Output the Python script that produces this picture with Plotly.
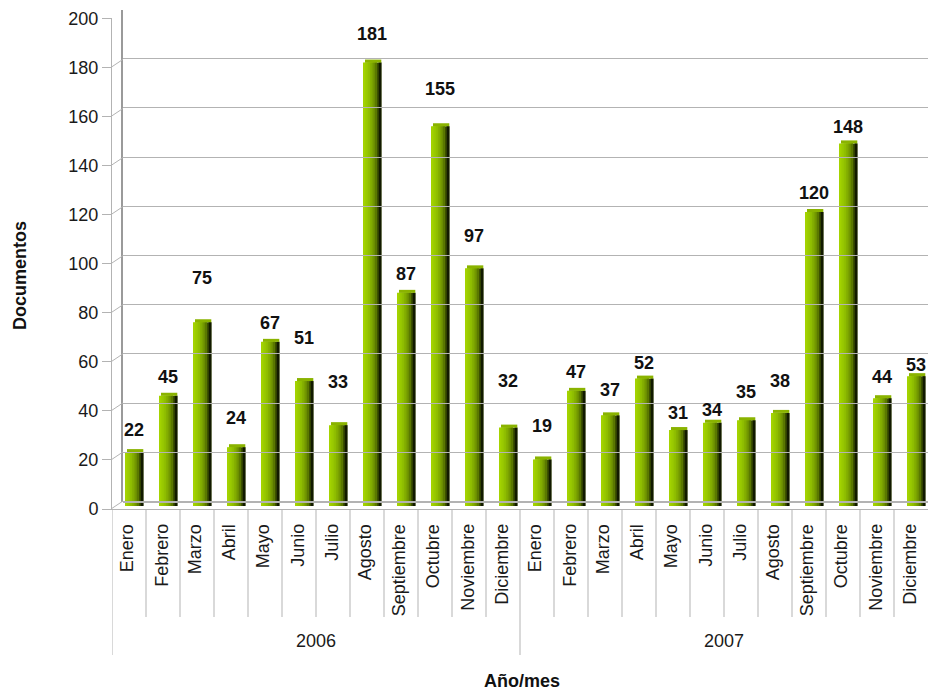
import plotly.graph_objects as go

# ---------------- data ----------------
months = ["Enero", "Febrero", "Marzo", "Abril", "Mayo", "Junio", "Julio",
          "Agosto", "Septiembre", "Octubre", "Noviembre", "Diciembre"]
years = ["2006", "2007"]
docs_2006 = [22, 45, 75, 24, 67, 51, 33, 181, 87, 155, 97, 32]
docs_2007 = [19, 47, 37, 52, 31, 34, 35, 38, 120, 148, 44, 53]
y_ticks = [0, 20, 40, 60, 80, 100, 120, 140, 160, 180, 200]

# label placement nudges (pixels above bar top), style only
label_lift_px = [22, 19, 44, 29, 19, 43, 43, 29, 19, 37, 32, 47,
                 33, 19, 25, 16, 17, 13, 28, 32, 19, 16, 21, 11]

# ---------------- geometry helpers ----------------
W, H = 928, 692


def fx(p):
    return p / W


def fy(p):
    return 1 - p / H


values = docs_2006 + docs_2007
n = len(values)
xs = list(range(n))
month_labels = months * len(years)

X_LEFT = 112
CAT = (W - X_LEFT) / n          # pixels per category
front_l = -4 / CAT
front_w = 14 / CAT
side_w = 4.3 / CAT
bar_center = front_l + (front_w + side_w) / 2


def hex2rgb(h):
    h = h.lstrip('#')
    return tuple(int(h[i:i + 2], 16) for i in (0, 2, 4))


def grad(stops, t):
    seg = (len(stops) - 1) * t
    i = min(int(seg), len(stops) - 2)
    f = seg - i
    a, b = hex2rgb(stops[i]), hex2rgb(stops[i + 1])
    c = [round(a[k] + (b[k] - a[k]) * f) for k in range(3)]
    return 'rgb(%d,%d,%d)' % tuple(c)


front_stops = ["#a4d300", "#94c400", "#7fa800", "#5a7800"]
side_stops = ["#3c5100", "#263400", "#121a00"]

fig = go.Figure()

# empty trace creating the back-wall subplot first (drawn underneath)
fig.add_trace(go.Scatter(x=[], y=[], xaxis='x2', yaxis='y3', showlegend=False,
                         hoverinfo='skip'))

NF = 8
for k in range(NF):
    off = front_l + k * front_w / NF
    fig.add_trace(go.Bar(
        x=xs, y=values, xaxis='x', yaxis='y2',
        offset=off, width=front_w - k * front_w / NF,
        marker=dict(color=grad(front_stops, k / (NF - 1)), line=dict(width=0)),
        showlegend=False, hoverinfo='skip'))

NS = 3
for k in range(NS):
    off = front_l + front_w + k * side_w / NS
    fig.add_trace(go.Bar(
        x=xs, y=values, xaxis='x', yaxis='y2',
        offset=off, width=side_w - k * side_w / NS,
        marker=dict(color=grad(side_stops, k / (NS - 1)), line=dict(width=0)),
        showlegend=False, hoverinfo='skip'))

# top cap of each bar (3-D depth of ~3px)
cap = 3 / 2.45
fig.add_trace(go.Bar(
    x=xs, y=[cap] * n, base=values, xaxis='x', yaxis='y2',
    offset=front_l + 2 / CAT, width=front_w + side_w - 2 / CAT,
    marker=dict(color="#8ab300", line=dict(width=0)),
    showlegend=False, hoverinfo='skip'))

font_main = "Liberation Sans, Arial, sans-serif"
annotations = []

# value labels
for i, v in enumerate(values):
    annotations.append(dict(
        x=i + bar_center, y=v, xref='x', yref='y2', yshift=label_lift_px[i],
        text=str(v), showarrow=False, yanchor='middle', xanchor='center',
        font=dict(family=font_main, size=18, color='#111', weight='bold')))

# month labels (rotated)
for i, m in enumerate(month_labels):
    annotations.append(dict(
        x=i - 0.05, y=fy(522), xref='x', yref='paper', text=m, showarrow=False,
        textangle=-90, yanchor='top', xanchor='center',
        font=dict(family=font_main, size=18, color='#1a1a1a')))

# year labels
for j, yr in enumerate(years):
    annotations.append(dict(
        x=j * len(months) + (len(months) - 1) / 2, y=fy(641), xref='x', yref='paper',
        text=yr, showarrow=False, yanchor='middle', xanchor='center',
        font=dict(family=font_main, size=18, color='#1a1a1a')))

# axis titles
annotations.append(dict(x=fx(20), y=fy(276), xref='paper', yref='paper',
                        text='Documentos', textangle=-90, showarrow=False,
                        xanchor='center', yanchor='middle',
                        font=dict(family=font_main, size=18, color='#111', weight='bold')))
annotations.append(dict(x=fx(522), y=fy(681), xref='paper', yref='paper',
                        text='Año/mes', showarrow=False,
                        xanchor='center', yanchor='middle',
                        font=dict(family=font_main, size=18, color='#111', weight='bold')))

shapes = []
GRID = '#b3b3b3'
# category dividers below axis
for b in range(n):
    boundary = b - 0.5
    is_year = (b % len(months) == 0)
    shapes.append(dict(type='line', xref='x', yref='paper',
                       x0=boundary, x1=boundary, y0=fy(509),
                       y1=fy(655) if is_year else fy(617),
                       line=dict(color=GRID, width=1)))

# 3-D connectors from front axis ticks to back wall
for t in y_ticks:
    shapes.append(dict(type='line', xref='paper', yref='y', ysizemode='pixel',
                       yanchor=t, x0=fx(111), x1=fx(123), y0=0, y1=8,
                       line=dict(color=GRID, width=1)))

fig.update_layout(
    width=W, height=H,
    margin=dict(l=0, r=0, t=0, b=0, autoexpand=False),
    paper_bgcolor='white', plot_bgcolor='rgba(0,0,0,0)',
    barmode='overlay', showlegend=False,
    font=dict(family=font_main, size=18, color='#1a1a1a'),
    xaxis=dict(domain=[fx(X_LEFT), 1.0], range=[-0.5, n - 0.5], anchor='y',
               showline=True, linecolor=GRID, linewidth=1, showgrid=False,
               zeroline=False, showticklabels=False, ticks='', fixedrange=True,
               automargin=False),
    yaxis=dict(domain=[fy(509), fy(18.3)], range=[0, 200], anchor='x',
               tickvals=y_ticks, ticks='outside', ticklen=9, tickcolor=GRID,
               showline=True, linecolor=GRID, linewidth=1, showgrid=False,
               zeroline=False, tickfont=dict(family=font_main, size=18, color='#1a1a1a'),
               fixedrange=True, automargin=False),
    yaxis2=dict(domain=[fy(506), fy(16)], range=[0, 200], anchor='x',
                visible=False, fixedrange=True, automargin=False),
    xaxis2=dict(domain=[fx(123), 1.0], range=[0, 1], anchor='y3', visible=False,
                fixedrange=True, automargin=False),
    yaxis3=dict(domain=[fy(501.5), fy(9.5)], range=[0, 200], anchor='x2',
                tickvals=y_ticks, showgrid=True, gridcolor=GRID, gridwidth=1,
                zeroline=True, zerolinecolor=GRID, showline=True,
                linecolor='#9a9a9a', linewidth=2, showticklabels=False, ticks='',
                fixedrange=True, automargin=False),
    annotations=annotations,
    shapes=shapes,
)

fig.write_html("out.html", config={"displayModeBar": False},
               post_script="document.body.style.margin='0';document.body.style.overflow='hidden';")
